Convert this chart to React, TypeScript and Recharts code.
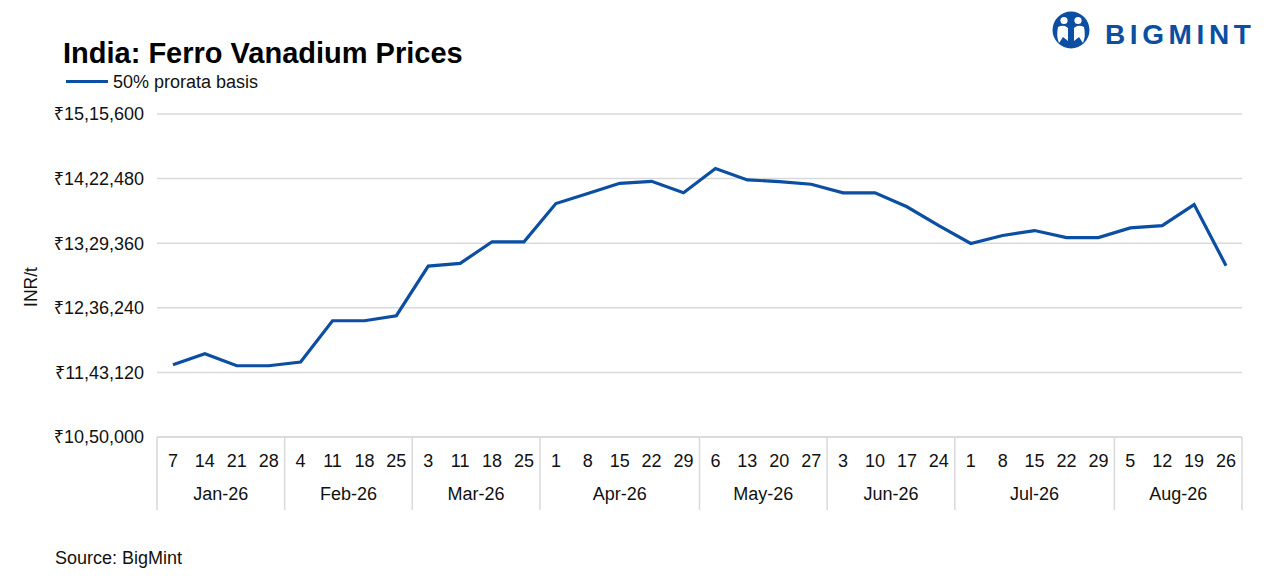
import React from 'react';
import { LineChart, Line, XAxis, YAxis, CartesianGrid } from 'recharts';

const days = [
  '7', '14', '21', '28',
  '4', '11', '18', '25',
  '3', '11', '18', '25',
  '1', '8', '15', '22', '29',
  '6', '13', '20', '27',
  '3', '10', '17', '24',
  '1', '8', '15', '22', '29',
  '5', '12', '19', '26',
];

const months = [
  'Jan-26', 'Jan-26', 'Jan-26', 'Jan-26',
  'Feb-26', 'Feb-26', 'Feb-26', 'Feb-26',
  'Mar-26', 'Mar-26', 'Mar-26', 'Mar-26',
  'Apr-26', 'Apr-26', 'Apr-26', 'Apr-26', 'Apr-26',
  'May-26', 'May-26', 'May-26', 'May-26',
  'Jun-26', 'Jun-26', 'Jun-26', 'Jun-26',
  'Jul-26', 'Jul-26', 'Jul-26', 'Jul-26', 'Jul-26',
  'Aug-26', 'Aug-26', 'Aug-26', 'Aug-26',
];

// INR per tonne, 50% prorata basis
const prices = [
  1154000, 1170000, 1152700, 1152700,
  1158000, 1217600, 1217600, 1224800,
  1296400, 1300300, 1331400, 1331400,
  1386500, 1401000, 1415700, 1418600, 1402000,
  1437000, 1420600, 1418200, 1414300,
  1402000, 1402000, 1381900, 1354700,
  1328900, 1340400, 1347600, 1337500, 1337500,
  1351400, 1354700, 1385000, 1297000,
];

const yTicks = [1050000, 1143120, 1236240, 1329360, 1422480, 1515600];

const data = prices.map((price, i) => ({ key: `${months[i]}-${days[i]}`, day: days[i], month: months[i], price }));

const BLUE = '#0b4ea2';
const GRID = '#d9d9d9';
const FONT = '"Liberation Sans", Arial, "Noto Sans", sans-serif';

const PLOT_LEFT = 157;
const PLOT_RIGHT = 1242;
const HALF = (PLOT_RIGHT - PLOT_LEFT) / days.length / 2;
const DAY_AXIS_H = 37;
const MONTH_AXIS_H = 36;

function inr(v: number) {
  const s = String(v);
  const last3 = s.slice(-3);
  let rest = s.slice(0, -3);
  const parts: string[] = [];
  while (rest.length > 2) {
    parts.unshift(rest.slice(-2));
    rest = rest.slice(0, -2);
  }
  if (rest) parts.unshift(rest);
  return '₹' + [...parts, last3].join(',');
}

function DayTick(props: any) {
  const { x, y, index } = props;
  return (
    <text x={x} y={y + 30} textAnchor="middle" fontSize={18} fill="#111">
      {days[index]}
    </text>
  );
}

function MonthTick(props: any) {
  const { x, y, index } = props;
  const m = months[index];
  const isFirst = index === 0 || months[index - 1] !== m;
  const isLast = index === months.length - 1;
  if (!isFirst && !isLast) return null;
  let end = index;
  while (end + 1 < months.length && months[end + 1] === m) end++;
  const top = y - DAY_AXIS_H;
  const bottom = y + MONTH_AXIS_H;
  return (
    <g>
      {isFirst && (
        <>
          <line x1={x - HALF} x2={x - HALF} y1={top} y2={bottom} stroke={GRID} strokeWidth={1.5} />
          <text x={x + (end - index) * HALF} y={y + 26} textAnchor="middle" fontSize={18} fill="#111">
            {m}
          </text>
        </>
      )}
      {isLast && <line x1={x + HALF} x2={x + HALF} y1={top} y2={bottom} stroke={GRID} strokeWidth={1.5} />}
    </g>
  );
}

function Logo() {
  return (
    <g>
      <circle cx={1071} cy={30} r={18.5} fill={BLUE} />
      <circle cx={1064} cy={20.5} r={3.6} fill="#fff" />
      <circle cx={1078} cy={20.5} r={3.6} fill="#fff" />
      <path d="M1058 27 Q1064 24 1068 28 L1068 41 L1063 37 L1059 43 Q1056 36 1058 27 Z" fill="#fff" />
      <path d="M1084 27 Q1078 24 1074 28 L1074 41 L1079 37 L1083 43 Q1086 36 1084 27 Z" fill="#fff" />
      <text x={1105} y={44} fontSize={28} fontWeight={700} letterSpacing={4.6} fill={BLUE}>
        BIGMINT
      </text>
    </g>
  );
}

export default function App() {
  return (
    <div style={{ position: 'absolute', left: 0, top: 0, width: 1266, height: 579, background: '#fff', fontFamily: FONT }}>
      <LineChart
        width={1266}
        height={579}
        data={data}
        margin={{ top: 114, right: 1266 - PLOT_RIGHT, bottom: 579 - 510, left: PLOT_LEFT - 100 }}
      >
        <CartesianGrid vertical={false} stroke={GRID} strokeWidth={1.5} />
        <XAxis
          xAxisId="day"
          dataKey="key"
          interval={0}
          height={DAY_AXIS_H}
          padding={{ left: HALF, right: HALF }}
          tickSize={0}
          tickMargin={0}
          tickLine={false}
          axisLine={{ stroke: GRID, strokeWidth: 1.5 }}
          tick={<DayTick />}
        />
        <XAxis
          xAxisId="month"
          dataKey="key"
          interval={0}
          height={MONTH_AXIS_H}
          padding={{ left: HALF, right: HALF }}
          tickSize={0}
          tickMargin={0}
          tickLine={false}
          axisLine={false}
          tick={<MonthTick />}
        />
        <YAxis
          width={100}
          domain={[yTicks[0], yTicks[yTicks.length - 1]]}
          ticks={yTicks}
          interval={0}
          tickFormatter={inr}
          tickSize={0}
          tickMargin={13}
          axisLine={false}
          tickLine={false}
          tick={{ fontSize: 18, fill: '#111' }}
        />
        <Line
          xAxisId="day"
          type="linear"
          dataKey="price"
          stroke={BLUE}
          strokeWidth={3.2}
          dot={false}
          isAnimationActive={false}
        />
      </LineChart>
      <svg width={1266} height={579} style={{ position: 'absolute', left: 0, top: 0, pointerEvents: 'none' }}>
        <text x={63} y={62.5} fontSize={29} fontWeight={700} fill="#000">
          India: Ferro Vanadium Prices
        </text>
        <line x1={66} x2={108} y1={81.5} y2={81.5} stroke={BLUE} strokeWidth={3.2} />
        <text x={113} y={87.5} fontSize={18} fill="#111">
          50% prorata basis
        </text>
        <text transform="translate(37 287) rotate(-90)" textAnchor="middle" fontSize={17.5} fill="#111">
          INR/t
        </text>
        <text x={55} y={564} fontSize={18} fill="#111">
          Source: BigMint
        </text>
        <Logo />
      </svg>
    </div>
  );
}
